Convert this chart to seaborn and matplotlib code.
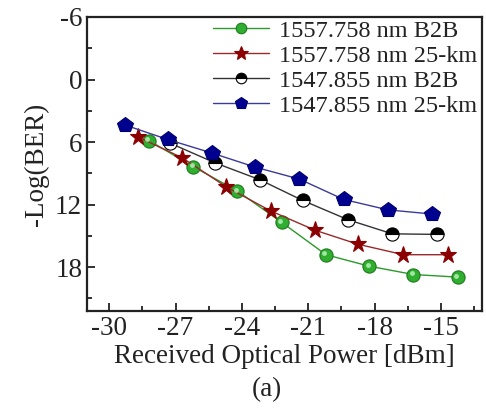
import matplotlib
matplotlib.use("Agg")
import matplotlib.pyplot as plt
import matplotlib.transforms as mtransforms
import seaborn as sns
import pandas as pd
from matplotlib.ticker import MultipleLocator
from matplotlib.lines import Line2D

# Data
green_x = [-28.2, -26.2, -24.2, -22.2, -20.2, -18.25, -16.25, -14.25]
green_y = [5.85, 8.35, 10.7, 13.7, 16.8, 17.9, 18.7, 18.95]
red_x = [-28.7, -26.7, -24.7, -22.7, -20.7, -18.75, -16.7, -14.7]
red_y = [5.5, 7.5, 10.3, 12.6, 14.45, 15.8, 16.8, 16.8]
black_x = [-27.25, -25.2, -23.2, -21.25, -19.2, -17.2, -15.2]
black_y = [6.1, 8.0, 9.6, 11.6, 13.45, 14.8, 14.85]
blue_x = [-29.3, -27.35, -25.35, -23.4, -21.4, -19.4, -17.4, -15.4]
blue_y = [4.35, 5.75, 7.05, 8.4, 9.55, 11.5, 12.5, 12.9]

labels = ["1557.758 nm B2B", "1557.758 nm 25-km", "1547.855 nm B2B", "1547.855 nm 25-km"]
x_ticks = [-30, -27, -24, -21, -18, -15]
y_ticks = [-6, 0, 6, 12, 18]

sns.set_style("ticks")
plt.rcParams["font.family"] = ["Liberation Serif", "DejaVu Serif"]
plt.rcParams["axes.unicode_minus"] = False

fig = plt.figure(figsize=(4.86, 4.09), dpi=100)
ax = fig.add_axes([87 / 486, 1 - 311 / 409, (482 - 87) / 486, (311 - 17) / 409])

styles = [
    dict(line="#2a9a2a", marker="o", ms=9.5, mfc="#2fae2f", mec="#1d7a1d", extra={}),
    dict(line="#9a2a2a", marker="*", ms=12.5, mfc="#8b0000", mec="#8b0000", extra={}),
    dict(line="#333333", marker="o", ms=9.5, mfc="black", mec="black",
         extra=dict(fillstyle="top", markerfacecoloralt="white")),
    dict(line="#3a3a9a", marker="p", ms=11.5, mfc="#000090", mec="#000070", extra={}),
]
series = [(green_x, green_y), (red_x, red_y), (black_x, black_y), (blue_x, blue_y)]

handles = []
for (xs, ys), st, lab in zip(series, styles, labels):
    df = pd.DataFrame({"x": xs, "y": ys})
    sns.lineplot(data=df, x="x", y="y", ax=ax, sort=False, color=st["line"], lw=1.0,
                 marker=st["marker"], markersize=st["ms"], markerfacecolor=st["mfc"],
                 markeredgecolor=st["mec"], markeredgewidth=0.8, **st["extra"])
    handles.append(Line2D([], [], color=st["line"], lw=1.0, marker=st["marker"],
                          markersize=st["ms"] * 0.8, markerfacecolor=st["mfc"],
                          markeredgecolor=st["mec"], markeredgewidth=0.8, **st["extra"]))

# glossy highlight on the green spheres
hl = mtransforms.offset_copy(ax.transData, fig=fig, x=-1.6, y=1.6, units="dots")
ax.plot(green_x, green_y, ls="none", marker="o", markersize=3.5, markerfacecolor="#b8f0b8",
        markeredgewidth=0, alpha=0.85, transform=hl)

ax.set_xlim(-31, -13.15)
ax.set_ylim(22.2, -6)
ax.set_xticks(x_ticks)
ax.set_yticks(y_ticks)
ax.xaxis.set_minor_locator(MultipleLocator(1.5))
ax.yaxis.set_minor_locator(MultipleLocator(3))
ax.tick_params(which="both", direction="in", top=False, right=False, labelsize=19.5, width=1.3, colors="#222222")
ax.tick_params(which="major", length=6)
ax.tick_params(which="minor", length=3.5)
for sp in ax.spines.values():
    sp.set_visible(True)
    sp.set_linewidth(1.6)
    sp.set_color("#222222")

ax.set_xlabel("Received Optical Power [dBm]", fontsize=19.5, labelpad=2, color="#222222")
ax.set_ylabel("-Log(BER)", fontsize=19.5, labelpad=4, color="#222222")
fig.text(267 / 486, 1 - 390 / 409, "(a)", ha="center", va="center", fontsize=19.5, color="#222222")

leg = ax.legend(handles, labels, loc="upper left", bbox_to_anchor=(0.319, 0.99), frameon=False,
                fontsize=17.5, handlelength=2.3, handletextpad=0.4, labelspacing=0.12,
                borderpad=0, borderaxespad=0)
for t in leg.get_texts():
    t.set_color("#222222")

fig.savefig("out.png", dpi=100)
